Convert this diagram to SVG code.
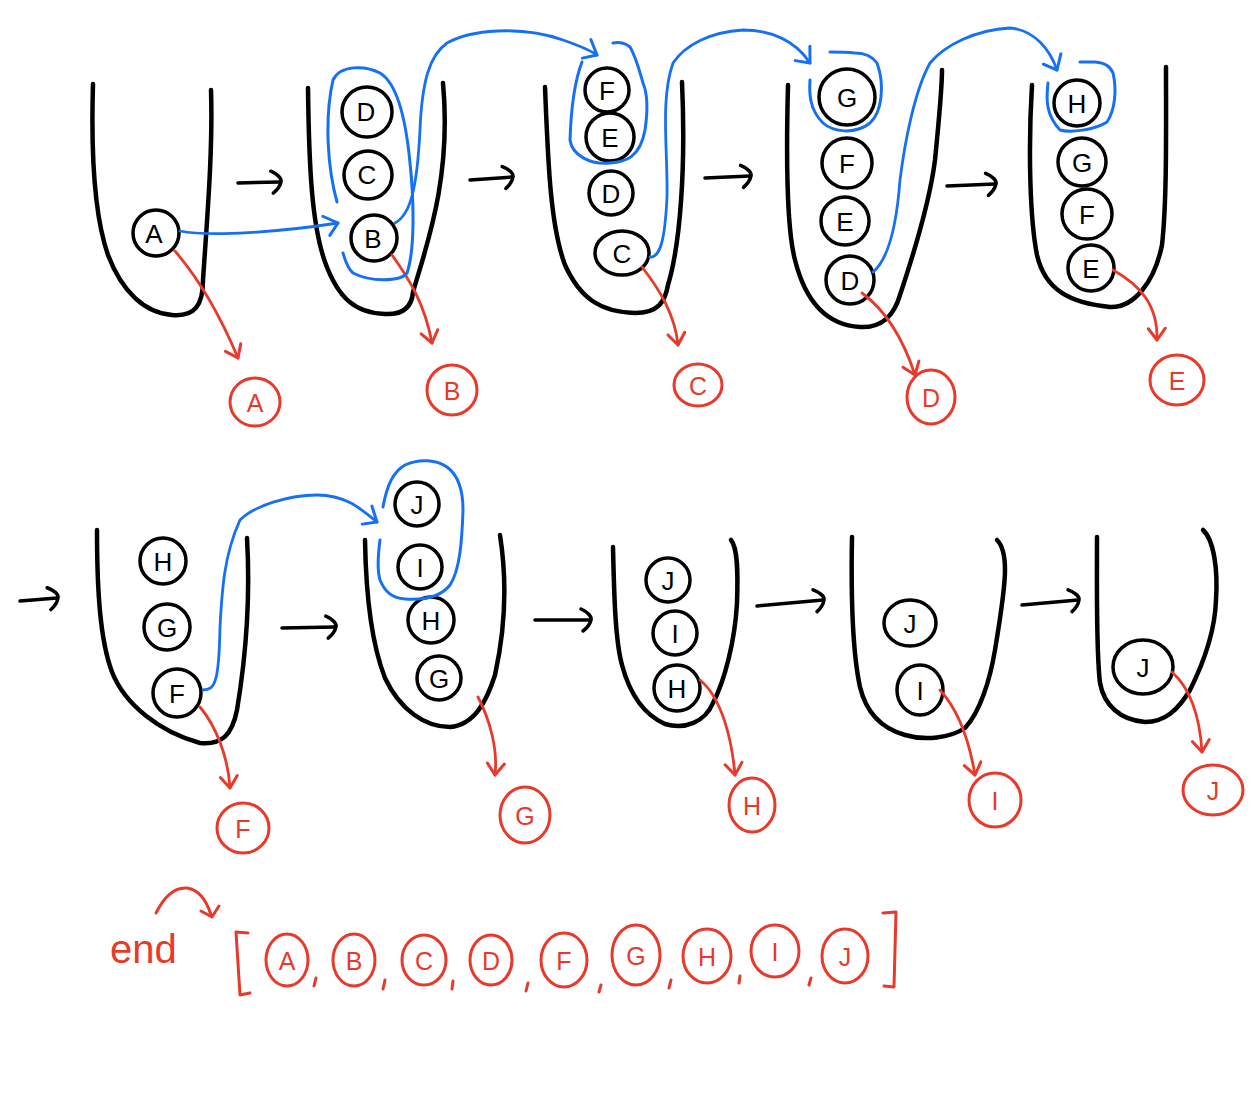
<svg xmlns="http://www.w3.org/2000/svg" width="1260" height="1120" viewBox="0 0 1260 1120">
<style>
.bg{fill:#fff}
.cont{fill:none;stroke:#000;stroke-width:4.5;stroke-linecap:round;stroke-linejoin:round}
.n{fill:none;stroke:#000;stroke-width:3.5}
.t{font-family:"Liberation Sans",Arial,sans-serif;font-size:26px;fill:#000;text-anchor:middle;dominant-baseline:central}
.rn{fill:none;stroke:#e8392b;stroke-width:3}
.rt{font-family:"Liberation Sans",Arial,sans-serif;font-size:25px;fill:#e8392b;text-anchor:middle;dominant-baseline:central}
.ra{fill:none;stroke:#e8392b;stroke-width:2.8;stroke-linecap:round;marker-end:url(#rh)}
.ba{fill:none;stroke:#1570f5;stroke-width:2.8;stroke-linecap:round;stroke-linejoin:round}
.bl{fill:none;stroke:#1570f5;stroke-width:3;stroke-linecap:round;stroke-linejoin:round}
.ka{fill:none;stroke:#000;stroke-width:3.5;stroke-linecap:round;marker-end:url(#kh)}
.rs{fill:none;stroke:#e8392b;stroke-width:3;stroke-linecap:round;stroke-linejoin:round}
</style>
<defs>
<marker id="kh" markerUnits="userSpaceOnUse" markerWidth="30" markerHeight="30" viewBox="-15 -15 30 30" refX="0" refY="0" orient="auto" overflow="visible">
<path d="M-9,-11 C-2,-8 2,-3 1,0 C0,4 -3,8 -7,11" fill="none" stroke="#000" stroke-width="3.5" stroke-linecap="round"/>
</marker>
<marker id="rh" markerUnits="userSpaceOnUse" markerWidth="30" markerHeight="30" viewBox="-15 -15 30 30" refX="0" refY="0" orient="auto" overflow="visible">
<path d="M-12,-8 L0,0 L-11,9" fill="none" stroke="#e8392b" stroke-width="3" stroke-linecap="round" stroke-linejoin="round"/>
</marker>
<marker id="bh" markerUnits="userSpaceOnUse" markerWidth="30" markerHeight="30" viewBox="-15 -15 30 30" refX="0" refY="0" orient="auto" overflow="visible">
<path d="M-14,-9 L0,0 L-10,11" fill="none" stroke="#1570f5" stroke-width="3" stroke-linecap="round" stroke-linejoin="round"/>
</marker>
</defs>
<rect class="bg" x="0" y="0" width="1260" height="1120"/>

<!-- Row 1 -->
<g id="stack1">
<path class="cont" d="M93,84 C91,150 94,215 108,255 C122,292 145,313 172,315 C195,317 203,305 203,280 C207,220 213,150 211,90"/>
<circle class="n" cx="156" cy="233" r="23"/><text class="t" x="154" y="234">A</text>
</g>
<g id="stack2">
<path class="cont" d="M308,88 C309,170 312,225 325,262 C338,298 355,313 385,314 C405,315 412,305 413,292 C425,250 452,180 443,83"/>
<circle class="n" cx="367" cy="112" r="25"/><text class="t" x="366" y="112">D</text>
<circle class="n" cx="368" cy="175" r="24"/><text class="t" x="367" y="175">C</text>
<circle class="n" cx="374" cy="238" r="23"/><text class="t" x="373" y="239">B</text>
</g>
<g id="stack3">
<path class="cont" d="M545,87 C548,160 550,225 565,265 C580,298 600,312 635,313 C658,313 665,302 668,285 C680,245 686,170 682,82"/>
<circle class="n" cx="607" cy="90" r="22"/><text class="t" x="607" y="91">F</text>
<circle class="n" cx="610" cy="137" r="24"/><text class="t" x="610" y="138">E</text>
<circle class="n" cx="611" cy="193" r="22"/><text class="t" x="611" y="194">D</text>
<ellipse class="n" cx="622" cy="253" rx="27" ry="22"/><text class="t" x="622" y="254">C</text>
</g>
<g id="stack4">
<path class="cont" d="M788,85 C786,160 787,230 795,260 C805,300 825,325 860,327 C885,328 895,312 900,295 C915,250 930,200 935,160 C940,110 942,85 942,70"/>
<circle class="n" cx="847" cy="97" r="28"/><text class="t" x="847" y="98">G</text>
<circle class="n" cx="847" cy="163" r="25"/><text class="t" x="847" y="164">F</text>
<circle class="n" cx="845" cy="221" r="24"/><text class="t" x="845" y="222">E</text>
<circle class="n" cx="850" cy="280" r="24"/><text class="t" x="850" y="281">D</text>
</g>
<g id="stack5">
<path class="cont" d="M1032,85 C1028,150 1030,220 1037,255 C1045,290 1070,303 1110,307 C1135,308 1155,280 1162,245 C1167,200 1166,130 1166,67"/>
<circle class="n" cx="1077" cy="103" r="23"/><text class="t" x="1077" y="104">H</text>
<circle class="n" cx="1082" cy="162" r="24"/><text class="t" x="1082" y="163">G</text>
<circle class="n" cx="1087" cy="214" r="25"/><text class="t" x="1087" y="215">F</text>
<circle class="n" cx="1091" cy="268" r="23"/><text class="t" x="1091" y="269">E</text>
</g>

<!-- Row 1 outputs -->
<g id="outA"><ellipse class="rn" cx="255" cy="402" rx="25" ry="24"/><text class="rt" x="255" y="403">A</text></g>
<g id="outB"><ellipse class="rn" cx="452" cy="390" rx="25" ry="25"/><text class="rt" x="452" y="391">B</text></g>
<g id="outC"><ellipse class="rn" cx="698" cy="385" rx="24" ry="21"/><text class="rt" x="698" y="386">C</text></g>
<g id="outD"><ellipse class="rn" cx="931" cy="397" rx="24" ry="27"/><text class="rt" x="931" y="398">D</text></g>
<g id="outE"><ellipse class="rn" cx="1177" cy="380" rx="27" ry="25"/><text class="rt" x="1177" y="381">E</text></g>

<!-- Row 2 -->
<g id="stack6">
<path class="cont" d="M97,530 C97,590 100,640 112,672 C125,705 160,732 200,743 C222,745 232,735 237,710 C247,650 250,590 247,538"/>
<circle class="n" cx="163" cy="561" r="23"/><text class="t" x="163" y="562">H</text>
<circle class="n" cx="167" cy="627" r="23"/><text class="t" x="167" y="628">G</text>
<circle class="n" cx="177" cy="693" r="24"/><text class="t" x="177" y="694">F</text>
</g>
<g id="stack7">
<path class="cont" d="M365,540 C366,600 372,645 385,678 C400,710 425,727 450,727 C475,725 487,700 495,675 C505,630 507,580 500,535"/>
<circle class="n" cx="417" cy="504" r="22"/><text class="t" x="417" y="505">J</text>
<circle class="n" cx="420" cy="567" r="22"/><text class="t" x="420" y="568">I</text>
<circle class="n" cx="431" cy="620" r="23"/><text class="t" x="431" y="621">H</text>
<circle class="n" cx="439" cy="678" r="22"/><text class="t" x="439" y="679">G</text>
</g>
<g id="stack8">
<path class="cont" d="M613,547 C614,590 615,640 622,665 C630,695 645,715 665,724 C685,730 705,722 713,703 C725,680 735,640 737,603 C738,575 738,548 731,540"/>
<circle class="n" cx="668" cy="580" r="22"/><text class="t" x="668" y="581">J</text>
<circle class="n" cx="675" cy="633" r="22"/><text class="t" x="675" y="634">I</text>
<circle class="n" cx="677" cy="688" r="23"/><text class="t" x="677" y="689">H</text>
</g>
<g id="stack9">
<path class="cont" d="M852,537 C851,590 852,650 860,687 C866,712 880,728 905,735 C925,741 950,738 965,728 C980,712 990,680 995,650 C1000,620 1005,590 1005,570 C1005,555 1002,545 997,540"/>
<ellipse class="n" cx="910" cy="623" rx="26" ry="23"/><text class="t" x="910" y="624">J</text>
<ellipse class="n" cx="920" cy="690" rx="23" ry="25"/><text class="t" x="920" y="691">I</text>
</g>
<g id="stack10">
<path class="cont" d="M1097,537 C1097,590 1096,650 1100,683 C1104,705 1120,720 1145,722 C1165,722 1178,710 1190,690 C1205,660 1215,630 1216,600 C1218,570 1214,540 1203,530"/>
<ellipse class="n" cx="1143" cy="667" rx="30" ry="27"/><text class="t" x="1143" y="668">J</text>
</g>

<!-- Row 2 outputs -->
<g id="outF"><ellipse class="rn" cx="243" cy="828" rx="26" ry="25"/><text class="rt" x="243" y="829">F</text></g>
<g id="outG"><ellipse class="rn" cx="525" cy="815" rx="25" ry="28"/><text class="rt" x="525" y="816">G</text></g>
<g id="outH"><ellipse class="rn" cx="752" cy="805" rx="23" ry="27"/><text class="rt" x="752" y="806">H</text></g>
<g id="outI"><ellipse class="rn" cx="995" cy="800" rx="26" ry="27"/><text class="rt" x="995" y="801">I</text></g>
<g id="outJ"><ellipse class="rn" cx="1213" cy="790" rx="30" ry="25"/><text class="rt" x="1213" y="791">J</text></g>

<!-- Result list -->
<g id="result">
<text x="110" y="963" font-family="Liberation Sans,Arial,sans-serif" font-size="40" fill="#e8392b">end</text>
<path class="rs" d="M156,913 C165,895 175,887 187,888 C200,890 207,902 211,915"/>
<path class="rs" d="M201,911 L212,917 L219,906"/>
<path class="rs" d="M248,933 L236,932 L240,995 L250,993"/>
<path class="rs" d="M883,913 L896,912 L894,987 L884,986"/>
<g><ellipse class="rn" cx="287" cy="960" rx="21" ry="26"/><text class="rt" x="287" y="961">A</text></g>
<g><ellipse class="rn" cx="354" cy="960" rx="21" ry="26"/><text class="rt" x="354" y="961">B</text></g>
<g><ellipse class="rn" cx="424" cy="960" rx="22" ry="25"/><text class="rt" x="424" y="961">C</text></g>
<g><ellipse class="rn" cx="491" cy="960" rx="21" ry="25"/><text class="rt" x="491" y="961">D</text></g>
<g><ellipse class="rn" cx="564" cy="960" rx="23" ry="27"/><text class="rt" x="564" y="961">F</text></g>
<g><ellipse class="rn" cx="636" cy="955" rx="24" ry="30"/><text class="rt" x="636" y="956">G</text></g>
<g><ellipse class="rn" cx="707" cy="956" rx="24" ry="27"/><text class="rt" x="707" y="957">H</text></g>
<g><ellipse class="rn" cx="775" cy="951" rx="24" ry="26"/><text class="rt" x="775" y="952">I</text></g>
<g><ellipse class="rn" cx="845" cy="956" rx="23" ry="27"/><text class="rt" x="845" y="957">J</text></g>
<path class="rs" d="M316,978 L314,986 M385,980 L383,989 M453,981 L452,989 M528,983 L526,991 M601,985 L599,992 M671,980 L669,988 M740,976 L739,983 M811,978 L809,985"/>
</g>

<!-- Connectors -->
<g id="connectors">
<!-- black step arrows -->
<path class="ka" d="M238,183 L280,182"/>
<path class="ka" d="M470,180 L512,177"/>
<path class="ka" d="M705,178 L750,176"/>
<path class="ka" d="M947,186 L995,184"/>
<path class="ka" d="M20,601 L57,598"/>
<path class="ka" d="M282,628 L335,627"/>
<path class="ka" d="M535,620 L590,620"/>
<path class="ka" d="M757,606 L823,600"/>
<path class="ka" d="M1022,605 L1078,600"/>

<!-- red pop arrows -->
<path class="ra" d="M175,251 C198,278 220,315 238,358"/>
<path class="ra" d="M392,255 C410,280 425,305 432,343"/>
<path class="ra" d="M642,267 C660,290 675,315 678,345"/>
<path class="ra" d="M862,293 C885,310 902,335 915,375"/>
<path class="ra" d="M1113,270 C1140,285 1158,305 1157,340"/>
<path class="ra" d="M200,707 C215,725 228,755 230,788"/>
<path class="ra" d="M478,697 C490,720 498,750 495,775"/>
<path class="ra" d="M700,680 C722,698 732,740 735,775"/>
<path class="ra" d="M940,690 C960,712 970,745 975,775"/>
<path class="ra" d="M1172,672 C1192,690 1200,720 1202,752"/>

<!-- blue push arrows -->
<path class="ba" marker-end="url(#bh)" d="M180,231 C210,237 280,232 338,223"/>
<path class="ba" marker-end="url(#bh)" d="M395,223 C410,215 417,190 420,130 C422,80 430,55 447,43 C470,30 520,25 563,40 C580,46 590,50 597,55"/>
<path class="ba" marker-end="url(#bh)" d="M650,257 C660,258 665,240 667,197 C668,150 660,100 673,63 C685,45 710,32 743,30 C770,30 795,40 810,63"/>
<path class="ba" marker-end="url(#bh)" d="M873,272 C890,258 897,220 900,180 C905,140 915,90 930,63 C945,45 975,30 1010,28 C1035,30 1050,50 1057,70"/>
<path class="ba" marker-end="url(#bh)" d="M203,690 C215,690 219,682 220,627 C222,590 224,555 240,520 C255,505 290,495 317,495 C345,495 360,508 377,522"/>

<!-- blue selection loops -->
<path class="bl" d="M337,202 C328,170 324,120 333,80 C340,65 365,65 380,73 C395,82 405,110 410,163 C414,200 415,250 407,273 C400,282 370,282 353,273 C347,268 345,260 343,253"/>
<path class="bl" d="M582,62 C575,80 571,110 570,140 C572,155 590,165 610,163 C625,162 640,158 645,130 C648,110 648,95 643,83 C638,65 633,52 630,47 C625,43 618,42 613,43"/>
<path class="bl" d="M810,80 C809,95 810,110 823,123 C833,132 855,135 870,123 C882,112 885,85 877,63 C872,56 865,53 855,53 C845,52 835,52 830,52"/>
<path class="bl" d="M1048,83 C1046,100 1046,115 1060,130 C1070,133 1095,130 1107,122 C1115,110 1117,90 1113,73 C1110,66 1105,63 1095,62 C1090,62 1085,62 1080,62"/>
<path class="bl" d="M380,540 C378,555 377,570 380,580 C385,592 392,598 405,599 C420,600 440,598 450,585 C460,570 462,540 463,510 C463,490 458,475 447,467 C437,460 420,458 405,465 C393,472 387,485 383,507"/>
</g>
</svg>
